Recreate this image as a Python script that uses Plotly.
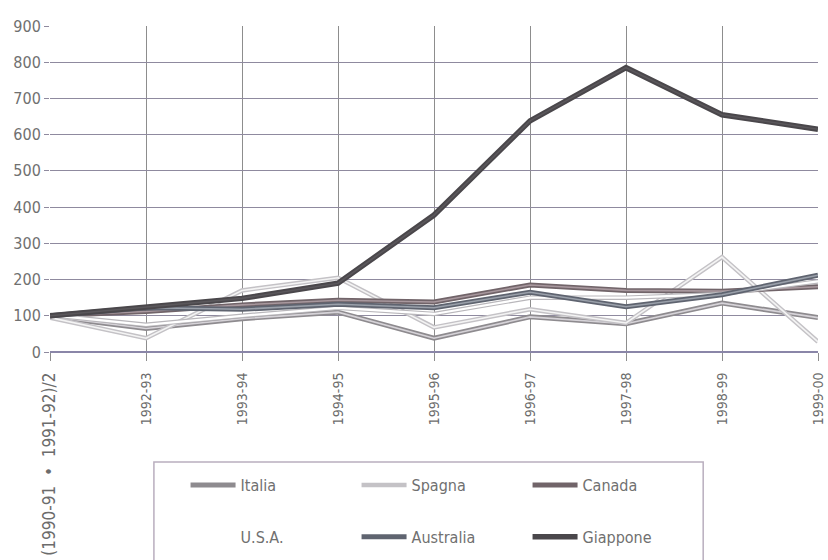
import plotly.graph_objects as go

# Periodi (asse x) e indici per paese (asse y)
periodi = ["(1990-91 + 1991-92)/2", "1992-93", "1993-94", "1994-95", "1995-96",
           "1996-97", "1997-98", "1998-99", "1999-00"]
italia = [98, 65, 92, 110, 38, 97, 78, 135, 95]
spagna = [95, 38, 170, 205, 68, 118, 80, 262, 28]
canada = [100, 112, 130, 143, 138, 185, 170, 168, 180]
usa = [102, 75, 100, 122, 105, 150, 150, 160, 195]
australia = [100, 122, 118, 132, 122, 165, 125, 158, 212]
giappone = [100, 125, 148, 190, 378, 638, 785, 655, 615]
y_ticks = [0, 100, 200, 300, 400, 500, 600, 700, 800, 900]

FONT = "Liberation Sans Narrow, DejaVu Sans Condensed, Roboto, sans-serif"

# il primo periodo è una media: etichetta un po' più grande
etichette = ['<span style="font-size:17px">' + periodi[0].replace(" + ", "  •  ") + "</span>"] + periodi[1:]

fig = go.Figure()

# (nome, valori, colore esterno, colore interno, spessore, legenda)
serie = [
    ("Italia", italia, "#8e8b8f", "#d6d3d8", 5, "legend"),
    ("Spagna", spagna, "#c4c2c6", "#f4f4f4", 4.5, "legend"),
    ("Canada", canada, "#716469", "#a8989e", 5, "legend"),
    ("U.S.A.", usa, "#b9b7bb", "#ffffff", 4.5, "legend2"),
    ("Australia", australia, "#5f6470", "#9aa0aa", 5, "legend2"),
    ("Giappone", giappone, "#4a474b", "#5a575b", 5.5, "legend2"),
]

for nome, valori, esterno, interno, w, leg in serie:
    bianco = nome == "U.S.A."
    fig.add_trace(go.Scatter(
        x=periodi, y=valori, mode="lines", name=nome, legend=leg,
        line=dict(color=esterno, width=w), showlegend=not bianco,
    ))
    fig.add_trace(go.Scatter(
        x=periodi, y=valori, mode="lines", name=nome, legend=leg,
        line=dict(color=interno, width=1.6 if not bianco else 2.2),
        showlegend=bianco,
    ))

# cornice della legenda
fig.add_shape(type="rect", xref="paper", yref="paper",
              x0=0.1353, x1=0.8505, y0=-0.3374, y1=-0.75,
              line=dict(color="#b9aebe", width=1.5), fillcolor="rgba(0,0,0,0)")

legenda = dict(
    orientation="h", xanchor="left", yanchor="middle",
    font=dict(family=FONT, size=16, color="#707070"),
    bgcolor="rgba(0,0,0,0)", entrywidth=111, entrywidthmode="pixels",
    itemwidth=45, traceorder="normal",
)

fig.update_layout(
    width=828, height=560,
    margin=dict(l=50, r=2, t=26, b=208),
    paper_bgcolor="white", plot_bgcolor="white",
    font=dict(family=FONT, color="#707070"),
    legend=dict(legenda, x=0.1765, y=-0.408),
    legend2=dict(legenda, x=0.1765, y=-0.567),
    xaxis=dict(
        type="category", range=[0, 8], showgrid=True, gridcolor="#8d8d8d",
        gridwidth=1, ticks="outside", ticklen=8, tickcolor="#8d8d8d",
        tickangle=-90, tickfont=dict(size=14, color="#6c6c6c"),
        tickmode="array", tickvals=periodi, ticktext=etichette,
        ticklabelstandoff=6, showline=False, zeroline=False,
    ),
    yaxis=dict(
        range=[0, 900], tickvals=y_ticks, showgrid=True, gridcolor="#8f8a9f",
        gridwidth=1.2, ticks="outside", ticklen=5, tickcolor="#8f8a9f",
        tickfont=dict(size=16, color="#707070"), zeroline=True,
        zerolinecolor="#8a86a8", zerolinewidth=1.5, showline=False,
    ),
)

fig.write_html("out.html")
